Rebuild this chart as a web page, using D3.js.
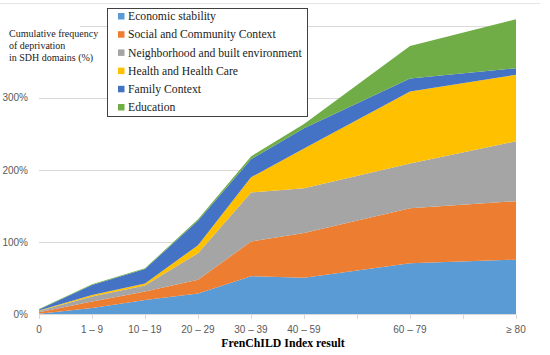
<!DOCTYPE html>
<html>
<head>
<meta charset="utf-8">
<script src="https://cdn.jsdelivr.net/npm/d3@7"></script>
<style>
  body { margin: 0; background: #fff; }
  svg { display: block; }
  .serif { font-family: "Liberation Serif", "Times New Roman", serif; }
  .sans { font-family: "Liberation Sans", Arial, sans-serif; }
</style>
</head>
<body>
<div id="chart"></div>
<script>
// categories along the x axis and their position on the (uneven) axis
const categories = ["0", "1 – 9", "10 – 19", "20 – 29", "30 – 39", "40 – 59", "60 – 79", "≥ 80"];
const positions = [0, 1, 2, 3, 4, 5, 7, 9];

// cumulative frequency of deprivation (%) per SDH domain
const economic = [1, 9, 20, 29, 53, 51, 71, 76];
const social = [2, 9, 12, 19, 48, 62, 76, 81];
const neighborhood = [2, 7, 8, 37, 68, 62, 62, 83];
const health = [0.5, 2, 3, 11, 21, 55, 100, 92];
const family = [1.5, 14, 20, 34, 25, 28, 18, 9];
const education = [0.5, 1, 1, 2, 4, 6, 45, 68];

const seriesNames = ["Economic stability", "Social and Community Context",
  "Neighborhood and built environment", "Health and Health Care", "Family Context", "Education"];
const seriesValues = [economic, social, neighborhood, health, family, education];
const colors = ["#5B9BD5", "#ED7D31", "#A5A5A5", "#FFC000", "#4472C4", "#70AD47"];

const yTicks = [0, 100, 200, 300, 400];

const width = 550, height = 355;

const rows = categories.map((c, i) => {
  const r = { pos: positions[i] };
  seriesNames.forEach((s, j) => r[s] = seriesValues[j][i]);
  return r;
});

const svg = d3.select("#chart").append("svg")
    .attr("width", width)
    .attr("height", height);

// faint outer frame line at the top
svg.append("line")
    .attr("x1", 0).attr("x2", 540)
    .attr("y1", 3.5).attr("y2", 3.5)
    .attr("stroke", "#e6e6e6");

const x = d3.scaleLinear().domain([0, 9]).range([39, 516]);
const y = d3.scaleLinear().domain([0, 400]).range([314.5, 25.7]);

// gridlines
svg.append("g")
  .selectAll("line")
  .data(yTicks.slice(1))
  .join("line")
    .attr("x1", d => d === 400 ? 80 : 39)
    .attr("x2", 516)
    .attr("y1", d => Math.round(y(d)) + 0.5)
    .attr("y2", d => Math.round(y(d)) + 0.5)
    .attr("stroke", "#d9d9d9");

// y tick labels (400% is hidden behind the axis title)
svg.append("g")
  .selectAll("text")
  .data(yTicks.slice(0, 4))
  .join("text")
    .attr("class", "sans")
    .attr("x", 28)
    .attr("y", d => y(d))
    .attr("dy", "0.35em")
    .attr("text-anchor", "end")
    .attr("font-size", 10)
    .attr("fill", "#595959")
    .text(d => d + "%");

// stacked areas
const stack = d3.stack().keys(seriesNames);
const layers = stack(rows);

const area = d3.area()
    .x(d => x(d.data.pos))
    .y0(d => y(d[0]))
    .y1(d => y(d[1]));

svg.append("g")
  .selectAll("path")
  .data(layers)
  .join("path")
    .attr("fill", (d, i) => colors[i])
    .attr("d", area);

// x axis line and ticks
const xAxis = svg.append("g");
xAxis.append("line")
    .attr("x1", 39).attr("x2", 516)
    .attr("y1", 314.5).attr("y2", 314.5)
    .attr("stroke", "#d9d9d9");
xAxis.selectAll(".tick")
  .data(d3.range(0, 10))
  .join("line")
    .attr("class", "tick")
    .attr("x1", d => Math.round(x(d)) + 0.5)
    .attr("x2", d => Math.round(x(d)) + 0.5)
    .attr("y1", 314.5).attr("y2", 319)
    .attr("stroke", "#d9d9d9");
xAxis.selectAll("text")
  .data(categories)
  .join("text")
    .attr("class", "sans")
    .attr("x", (d, i) => x(positions[i]))
    .attr("y", 329)
    .attr("dy", "0.35em")
    .attr("text-anchor", "middle")
    .attr("font-size", 10)
    .attr("fill", "#595959")
    .text(d => d);

// x axis title
svg.append("text")
    .attr("class", "serif")
    .attr("x", 283)
    .attr("y", 347)
    .attr("text-anchor", "middle")
    .attr("font-weight", "bold")
    .attr("font-size", 11.8)
    .attr("fill", "#000")
    .text("FrenChILD Index result");

// y axis title
svg.append("g")
  .selectAll("text")
  .data(["Cumulative frequency", "of deprivation", "in SDH domains (%)"])
  .join("text")
    .attr("class", "serif")
    .attr("x", 9)
    .attr("y", (d, i) => 37 + i * 12)
    .attr("font-size", 10)
    .attr("fill", "#222")
    .text(d => d);

// legend
const legend = svg.append("g");
legend.append("rect")
    .attr("x", 107.5).attr("y", 8.5)
    .attr("width", 200).attr("height", 108)
    .attr("fill", "#fff")
    .attr("stroke", "#404040");
const item = legend.selectAll(".item")
  .data(seriesNames)
  .join("g")
    .attr("class", "item")
    .attr("transform", (d, i) => `translate(118,${16 + i * 18.2})`);
item.append("rect")
    .attr("x", 0).attr("y", -3)
    .attr("width", 6.5).attr("height", 6.5)
    .attr("fill", (d, i) => colors[i]);
item.append("text")
    .attr("class", "serif")
    .attr("x", 10)
    .attr("y", 0)
    .attr("dy", "0.35em")
    .attr("font-size", 11.7)
    .attr("fill", "#222")
    .text(d => d);
</script>
</body>
</html>
